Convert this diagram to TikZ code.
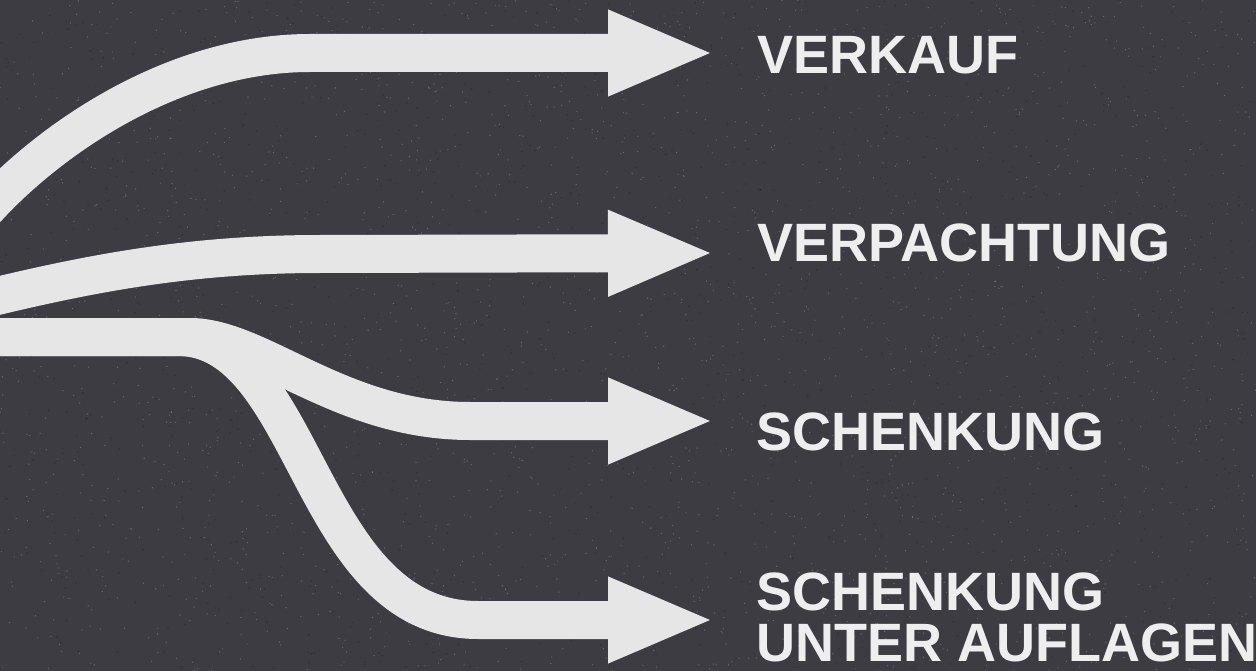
\documentclass[tikz,border=0pt]{standalone}
\usepackage{fontspec}
\setmainfont{Liberation Sans}
\usepackage{tikz}
\usetikzlibrary{arrows.meta,positioning}

\definecolor{board}{HTML}{3D3C42}
\definecolor{chalk}{HTML}{E6E6E6}
\definecolor{chalktext}{HTML}{EEEEEE}

\begin{document}
\begin{tikzpicture}[x=1pt,y=-1pt]
		\useasboundingbox (0,0) rectangle (1256,671);
		\clip (0,0) rectangle (1256,671);
		\fill[board] (0,0) rectangle (1256,671);

		% chalk dust
		\pgfmathsetseed{7}
		\foreach \i in {1,...,2500}
			\fill[white,opacity=.22] (rnd*1256,rnd*671) circle (.7pt);
		\foreach \i in {1,...,1200}
			\fill[black,opacity=.18] (rnd*1256,rnd*671) circle (.9pt);

		\begin{scope}[every node/.style={anchor=west,inner sep=0pt,text=chalktext,
				font=\bfseries\fontsize{54}{51}\selectfont,align=left}]
			\node (verkauf) at (757,55) {VERKAUF};
			\node (verpachtung) at (757,243) {VERPACHTUNG};
			\node (schenkung) at (756,432) {SCHENKUNG};
			\node (auflagen) at (756,617) {SCHENKUNG\\UNTER AUFLAGEN};
		\end{scope}

		\coordinate (s1) at (-25,222);
		\coordinate (s2) at (-60,310);
		\coordinate (s3) at (-20,337);
		\coordinate (t1) at (715,53);
		\coordinate (t2) at (715,253);
		\coordinate (t3) at (715,421);
		\coordinate (t4) at (715,620);

		\begin{scope}[chalk,line width=38pt,-{Triangle[length=107pt,width=78pt]}]
			\draw (s1) .. controls (35,150) and (165,53) .. (310,53) -- (t1);
			\draw (s2) .. controls (60,280) and (170,254) .. (320,254) -- (t2);
			\draw (s3) -- (190,337) .. controls (260,337) and (340,421) .. (470,421) -- (t3);
			\draw (s3) -- (178,337) .. controls (308,337) and (308,620) .. (478,620) -- (t4);
		\end{scope}
	\end{tikzpicture}
\end{document}
